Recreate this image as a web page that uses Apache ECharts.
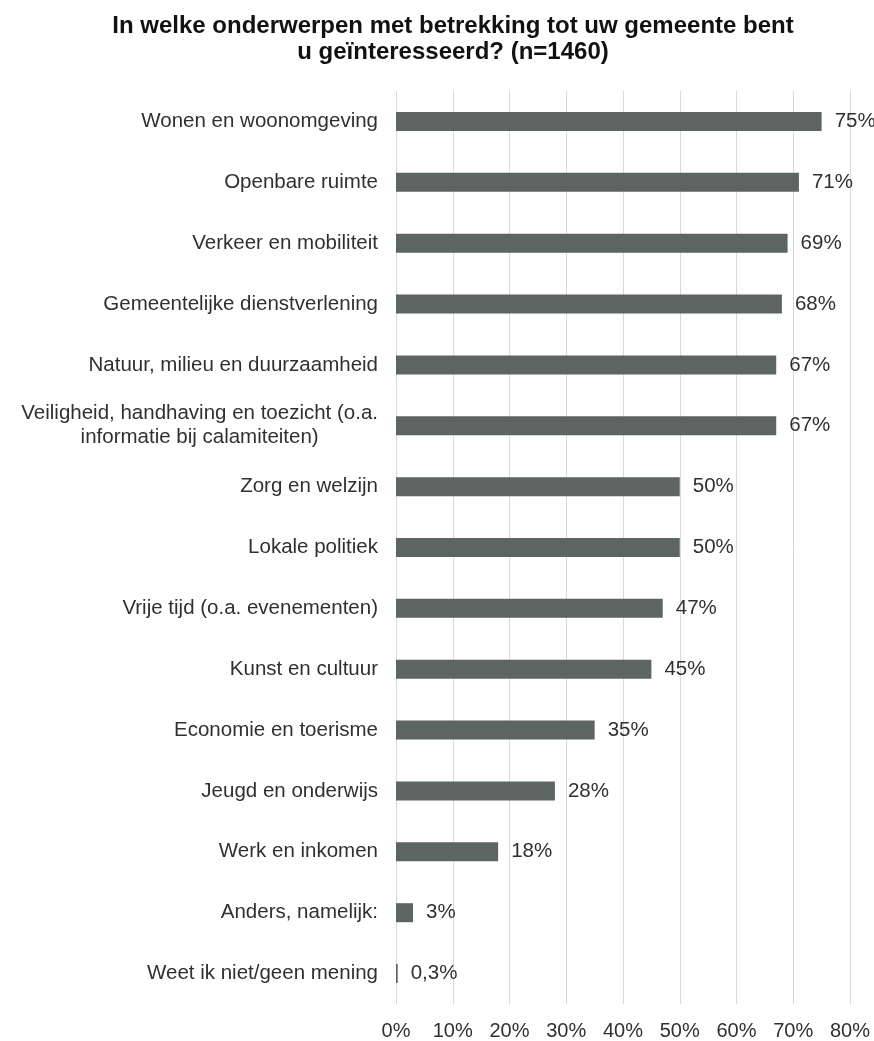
<!DOCTYPE html>
<html>
<head>
<meta charset="utf-8">
<script src="https://cdn.jsdelivr.net/npm/echarts@6/dist/echarts.min.js"></script>
<style>
  html, body { margin: 0; padding: 0; background: #fff; }
  #chart { width: 874px; height: 1041px; }
</style>
</head>
<body>
<div id="chart"></div>
<script>
// Survey topics, top to bottom
const categories = [
  'Wonen en woonomgeving',
  'Openbare ruimte',
  'Verkeer en mobiliteit',
  'Gemeentelijke dienstverlening',
  'Natuur, milieu en duurzaamheid',
  'Veiligheid, handhaving en toezicht (o.a.\ninformatie bij calamiteiten)',
  'Zorg en welzijn',
  'Lokale politiek',
  'Vrije tijd (o.a. evenementen)',
  'Kunst en cultuur',
  'Economie en toerisme',
  'Jeugd en onderwijs',
  'Werk en inkomen',
  'Anders, namelijk:',
  'Weet ik niet/geen mening'
];

// Share of respondents interested (%)
const values = [75, 71, 69, 68, 67, 67, 50, 50, 47, 45, 35, 28, 18, 3, 0.3];

// Percentage axis ticks
const xTicks = [0, 10, 20, 30, 40, 50, 60, 70, 80];

const FONT = '"Liberation Sans", Arial, sans-serif';
const TEXT = '#303030';

const chart = echarts.init(document.getElementById('chart'), null, { renderer: 'canvas' });

const fmtPct = v => String(v).replace('.', ',') + '%';

chart.setOption({
  animation: false,
  backgroundColor: '#ffffff',
  title: {
    text: 'In welke onderwerpen met betrekking tot uw gemeente bent\nu geïnteresseerd? (n=1460)',
    left: 448,
    top: 8,
    textAlign: 'center',
    textStyle: {
      fontFamily: FONT,
      fontSize: 24,
      fontWeight: 'bold',
      color: '#111111',
      lineHeight: 26
    }
  },
  grid: {
    left: 396,
    right: 24,
    top: 91,
    bottom: 33,
    containLabel: false
  },
  xAxis: {
    type: 'value',
    min: xTicks[0],
    max: xTicks[xTicks.length - 1],
    interval: xTicks[1] - xTicks[0],
    axisLine: { show: false },
    axisTick: { show: false },
    splitLine: { show: true, lineStyle: { color: '#d9d9d9', width: 1 } },
    axisLabel: {
      margin: 17,
      fontFamily: FONT,
      fontSize: 20,
      color: TEXT,
      formatter: v => v + '%'
    }
  },
  yAxis: {
    type: 'category',
    data: categories,
    inverse: true,
    axisLine: { show: false },
    axisTick: { show: false },
    splitLine: { show: false },
    axisLabel: {
      margin: 18,
      align: 'right',
      formatter: v => '{c|' + v + '}',
      rich: {
        c: {
          align: 'center',
          fontFamily: FONT,
          fontSize: 20.5,
          lineHeight: 24,
          color: TEXT
        }
      }
    }
  },
  series: [{
    type: 'bar',
    data: values,
    barWidth: 19,
    itemStyle: { color: '#5d6562' },
    label: {
      show: true,
      position: 'right',
      distance: 13,
      fontFamily: FONT,
      fontSize: 20.5,
      color: TEXT,
      formatter: p => fmtPct(p.value)
    }
  }]
});
</script>
</body>
</html>
